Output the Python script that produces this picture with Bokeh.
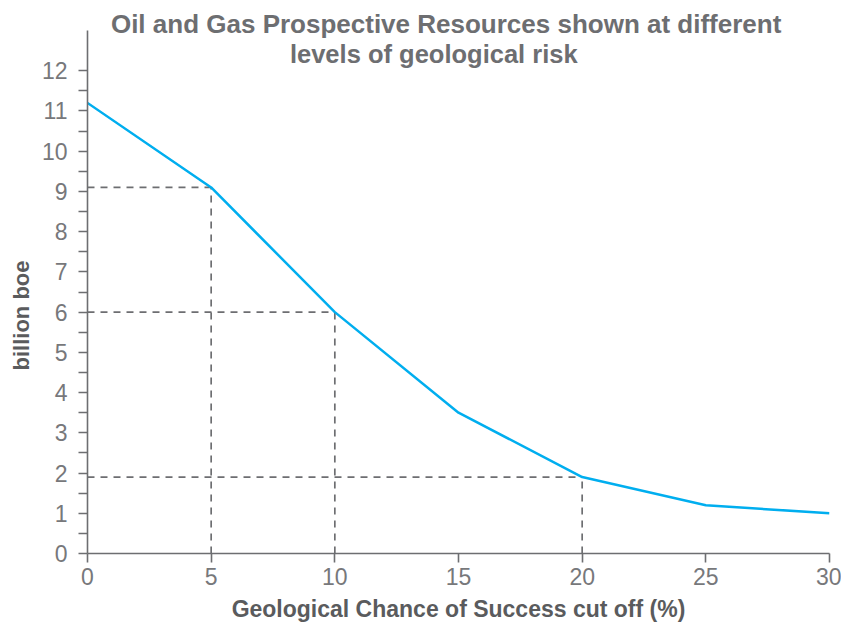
from bokeh.plotting import figure
from bokeh.models import Range1d, FixedTicker, Label, ColumnDataSource, Title
from bokeh.embed import file_html
from bokeh.resources import INLINE

# Data
cos_cutoff = [0, 5, 10, 15, 20, 25, 30]
resources = [11.2, 9.1, 6.0, 3.5, 1.9, 1.2, 1.0]
ref_x = [5, 10, 20]
ref_y = [9.1, 6.0, 1.9]
x_ticks = [0, 5, 10, 15, 20, 25, 30]
y_ticks = list(range(0, 13))
y_minor = [v + 0.5 for v in range(0, 12)]
title_lines = ["Oil and Gas Prospective Resources shown at different",
               "levels of geological risk"]

GRAY = "#6d6e71"
LIGHT = "#77787b"
DARK = "#5a5b5d"
BLUE = "#00aeef"
FONT = "Liberation Sans"

Y_AXIS_TOP = 13
Y_VIEW_TOP = 13.746

p = figure(width=841, height=625, output_backend="svg", toolbar_location=None,
           x_range=Range1d(0, 30), y_range=Range1d(0, Y_VIEW_TOP),
           min_border_left=87, min_border_right=12, min_border_top=0,
           min_border_bottom=72)
p.outline_line_color = None
p.xgrid.visible = False
p.ygrid.visible = False
p.background_fill_color = "white"

# dashed reference lines
src = ColumnDataSource(dict(x0=[0] * len(ref_x), x=ref_x, y=ref_y, y0=[0] * len(ref_y)))
p.segment(x0="x0", y0="y", x1="x", y1="y", source=src,
          line_color=GRAY, line_width=1.7, line_dash="7 6")
p.segment(x0="x", y0="y0", x1="x", y1="y", source=src,
          line_color=GRAY, line_width=1.7, line_dash="7 6")

p.line(cos_cutoff, resources, line_color=BLUE, line_width=2.5)

# axes
for ax in (p.xaxis[0], p.yaxis[0]):
    ax.axis_line_color = GRAY
    ax.axis_line_width = 1.6
    ax.major_tick_line_color = GRAY
    ax.major_tick_line_width = 1.6
    ax.minor_tick_line_color = GRAY
    ax.minor_tick_line_width = 1.6
    ax.major_tick_in = 0
    ax.major_tick_out = 9
    ax.minor_tick_in = 0
    ax.minor_tick_out = 9
    ax.major_label_text_font = FONT
    ax.major_label_text_color = LIGHT
    ax.major_label_text_font_size = "23px"
    ax.axis_label_text_font = FONT
    ax.axis_label_text_font_style = "bold"
    ax.axis_label_text_color = DARK

p.yaxis.bounds = (0, Y_AXIS_TOP)
p.xaxis.ticker = FixedTicker(ticks=x_ticks, minor_ticks=[])
p.yaxis.ticker = FixedTicker(ticks=y_ticks, minor_ticks=y_minor)
p.xaxis.axis_label = "Geological Chance of Success cut off (%)"
p.xaxis.axis_label_text_font_size = "23px"
p.xaxis.major_label_standoff = 5
p.xaxis.axis_label_standoff = 8
p.yaxis.major_label_standoff = 11

p.add_layout(Title(text="billion boe", align="left", offset=183, standoff=9,
                   text_font=FONT, text_font_style="bold", text_font_size="22px",
                   text_color=DARK), "left")

# title
p.add_layout(Label(x=14.5, y=13.15, text=title_lines[0], text_align="center",
                   text_baseline="alphabetic", text_font=FONT, text_font_style="bold",
                   text_font_size="26px", text_color=GRAY))
p.add_layout(Label(x=14.0, y=12.41, text=title_lines[1], text_align="center",
                   text_baseline="alphabetic", text_font=FONT, text_font_style="bold",
                   text_font_size="25.5px", text_color=GRAY))

open("out.html", "w").write(file_html(p, INLINE))
